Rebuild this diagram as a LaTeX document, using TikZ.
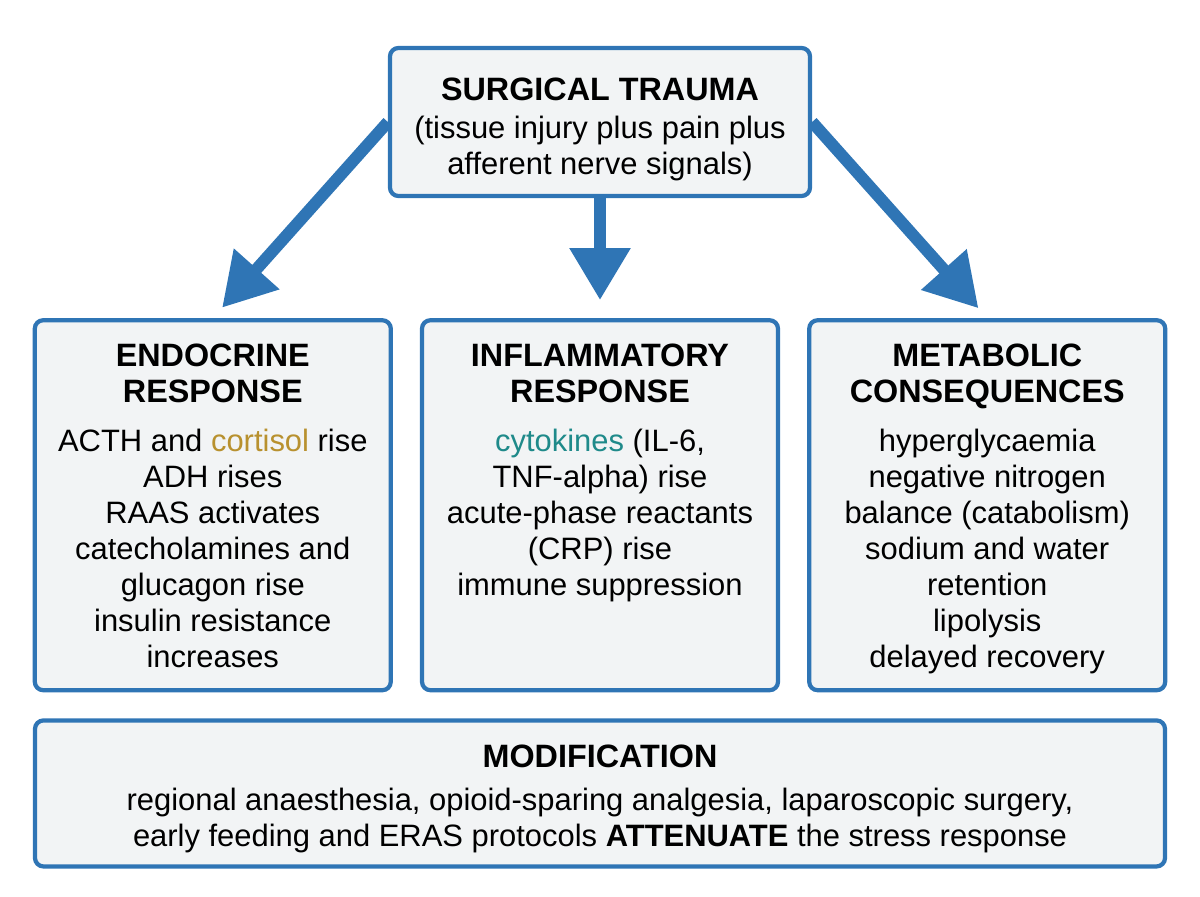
\documentclass[tikz,border=0pt]{standalone}
\usepackage{fontspec}
\setmainfont{Liberation Sans}
\usetikzlibrary{arrows.meta, positioning, backgrounds}
\definecolor{frameblue}{HTML}{2F75B5}
\definecolor{panelfill}{HTML}{F2F4F5}
\definecolor{cortgold}{HTML}{B8912F}
\definecolor{cyteal}{HTML}{1F8A8A}
\tikzset{
    panel/.style={rectangle, draw=frameblue, fill=panelfill, line width=3pt, rounded corners=6pt},
    column/.style={panel, minimum width=8.9cm, minimum height=9.25cm},
    paneltext/.style={align=center, font=\fontsize{22}{25.6}\selectfont, inner sep=0pt, outer sep=0pt},
    flow/.style={-{Triangle[length=1.3cm, width=1.45cm]}, line width=8.5pt, draw=frameblue},
}
\newcommand{\ttl}[1]{{\fontsize{23}{25.6}\selectfont\bfseries #1}}

\begin{document}
\begin{tikzpicture}

\useasboundingbox (0,0) rectangle (30,-22.4);

% ── Trigger ──
\node[panel, minimum width=10.5cm, minimum height=3.7cm] (trauma) at (15,-3.05) {};
\node[paneltext, below=0.79cm of trauma.north] (traumatxt) {\ttl{SURGICAL TRAUMA}\\[2pt]
    (tissue injury plus pain plus\\ afferent nerve signals)};

% ── Responses ──
\node[column, below=3.0cm of trauma] (inflam) {};
\node[column, left=0.675cm of inflam] (endo) {};
\node[column, right=0.675cm of inflam] (meta) {};

\node[paneltext, below=0.65cm of endo.north] (endotxt) {\ttl{ENDOCRINE}\\ \ttl{RESPONSE}\\[9pt]
    ACTH and \textcolor{cortgold}{cortisol} rise\\ ADH rises\\ RAAS activates\\
    catecholamines and\\ glucagon rise\\ insulin resistance\\ increases};
\node[paneltext, below=0.65cm of inflam.north] (inflamtxt) {\ttl{INFLAMMATORY}\\ \ttl{RESPONSE}\\[9pt]
    \textcolor{cyteal}{cytokines} (IL-6,\\ TNF-alpha) rise\\ acute-phase reactants\\
    (CRP) rise\\ immune suppression};
\node[paneltext, below=0.65cm of meta.north] (metatxt) {\ttl{METABOLIC}\\ \ttl{CONSEQUENCES}\\[9pt]
    hyperglycaemia\\ negative nitrogen\\ balance (catabolism)\\ sodium and water\\
    retention\\ lipolysis\\ delayed recovery};

% ── Modification ──
\node[panel, minimum width=28.25cm, minimum height=3.65cm, below=0.65cm of inflam] (modif) {};
\node[paneltext, below=0.67cm of modif.north] (modiftxt) {\ttl{MODIFICATION}\\[5pt]
    regional anaesthesia, opioid-sparing analgesia, laparoscopic surgery,\\
    early feeding and ERAS protocols \textbf{ATTENUATE} the stress response};

% ── Arrows ──
\begin{scope}[on background layer]
\draw[flow, shorten >=0.35cm] (trauma.west) -- (endo.north);
\draw[flow, shorten >=0.45cm] (trauma.south) -- (inflam.north);
\draw[flow, shorten >=0.33cm] (trauma.east) -- (meta.north);
\end{scope}

\end{tikzpicture}
\end{document}
